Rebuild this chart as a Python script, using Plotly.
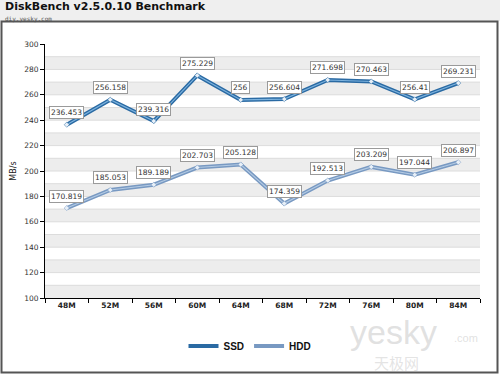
import plotly.graph_objects as go

categories = ["48M", "52M", "56M", "60M", "64M", "68M", "72M", "76M", "80M", "84M"]
ssd = [236.453, 256.158, 239.316, 275.229, 256, 256.604, 271.698, 270.463, 256.41, 269.231]
hdd = [170.819, 185.053, 189.189, 202.703, 205.128, 174.359, 192.513, 203.209, 197.044, 206.897]
y_ticks = [100, 120, 140, 160, 180, 200, 220, 240, 260, 280, 300]

W, H = 500, 375
L, R, T, B = 45, 20, 44, 77
pw, ph = W - L - R, H - T - B

def px(x):
    return (x - L) / pw

def py(y):
    return (H - B - y) / ph

fig = go.Figure()

series = [
    ("SSD", ssd, "#2a6aa3", "#7db3df"),
    ("HDD", hdd, "#7899c2", "#b4cbe4"),
]
for name, vals, dark, light in series:
    fig.add_trace(go.Scatter(
        x=categories, y=vals, name=f"<b>{name}</b>", mode="lines",
        line=dict(color=dark, width=4), legendgroup=name, showlegend=True))
    fig.add_trace(go.Scatter(
        x=categories, y=vals, name=name, mode="lines+markers",
        line=dict(color=light, width=1.1),
        marker=dict(symbol="diamond", size=4, color="#e8f0f8",
                    line=dict(color=dark, width=0.5)),
        legendgroup=name, showlegend=False, hoverinfo="skip"))

shapes = []
shapes.append(dict(type="rect", xref="paper", yref="paper",
                   x0=px(0), x1=px(W), y0=py(21), y1=py(0),
                   fillcolor="#efefef", line=dict(width=0), layer="below"))
shapes.append(dict(type="rect", xref="paper", yref="paper",
                   x0=px(1.5), x1=px(497.5), y0=py(372.5), y1=py(21.5),
                   fillcolor="rgba(0,0,0,0)", line=dict(color="#555555", width=2), layer="below"))
for lo in range(100, 300, 20):
    shapes.append(dict(type="rect", xref="paper", yref="y",
                       x0=0, x1=1, y0=lo, y1=lo + 10,
                       fillcolor="#ededed", line=dict(width=0), layer="below"))
for v in range(110, 300, 10):
    shapes.append(dict(type="line", xref="paper", yref="y",
                       x0=0, x1=1, y0=v, y1=v,
                       line=dict(color="#dcdcdc", width=1), layer="below"))

annotations = []
annotations.append(dict(text="<b>DiskBench v2.5.0.10 Benchmark</b>", xref="paper", yref="paper",
                        x=px(4), y=py(6.5), xanchor="left", yanchor="middle", showarrow=False,
                        borderpad=0,
                        font=dict(family="DejaVu Sans", size=11, color="#111111")))
annotations.append(dict(text="diy.yesky.com", xref="paper", yref="paper",
                        x=px(4), y=py(13.5), xanchor="left", yanchor="top", showarrow=False,
                        borderpad=0,
                        font=dict(family="DejaVu Sans Mono", size=6, color="#555555")))
for name, vals, dark, light in series:
    for c, v in zip(categories, vals):
        annotations.append(dict(
            x=c, y=v, xref="x", yref="y", text=f"{v:g}", showarrow=False,
            yshift=12, font=dict(family="DejaVu Sans", size=7.5, color="#333333"),
            bgcolor="#ffffff", bordercolor="#9a9a9a", borderwidth=1, borderpad=1))
# watermark
annotations.append(dict(text="yesky", xref="paper", yref="paper",
                        x=px(393), y=py(332), xanchor="center", yanchor="middle", showarrow=False,
                        font=dict(family="Liberation Sans", size=34, color="rgba(200,200,200,0.55)")))
annotations.append(dict(text=".com", xref="paper", yref="paper",
                        x=px(466), y=py(338), xanchor="center", yanchor="middle", showarrow=False,
                        font=dict(family="Liberation Sans", size=11, color="rgba(200,200,200,0.55)")))
annotations.append(dict(text="天极网", xref="paper", yref="paper",
                        x=px(396), y=py(362), xanchor="center", yanchor="middle", showarrow=False,
                        font=dict(family="Noto Sans CJK SC", size=15, color="rgba(205,205,205,0.55)")))

fig.update_layout(
    width=W, height=H,
    margin=dict(l=L, r=R, t=T, b=B, autoexpand=False),
    paper_bgcolor="#ffffff", plot_bgcolor="#ffffff",
    font=dict(family="DejaVu Sans", size=8, color="#333333"),
    shapes=shapes, annotations=annotations,
    showlegend=True,
    legend=dict(orientation="h", x=px(250), xanchor="center", y=py(346), yanchor="middle",
                font=dict(family="Liberation Sans", size=10, color="#111111"),
                bgcolor="rgba(0,0,0,0)", itemwidth=30),
    xaxis=dict(type="category", range=[-0.5, 9.5], tickson="boundaries",
               ticks="outside", ticklen=4, tickcolor="#000000",
               showline=True, linecolor="#000000", linewidth=1, mirror=False,
               showgrid=False, zeroline=False, automargin=False,
               tickfont=dict(family="DejaVu Sans", size=7.5, color="#222222"),
               tickprefix="<b>", ticksuffix="</b>"),
    yaxis=dict(range=[100, 300], tickvals=y_ticks, ticks="outside", ticklen=4,
               tickcolor="#000000", showline=True, linecolor="#000000", linewidth=1,
               showgrid=False, zeroline=False, automargin=False,
               tickfont=dict(family="DejaVu Sans", size=7.5, color="#333333"),
               title=dict(text="MB/s", font=dict(family="DejaVu Sans", size=8, color="#222222"),
                          standoff=6)),
)

fig.write_html("out.html", config={"displayModeBar": False},
               post_script="document.body.style.margin='0';")
